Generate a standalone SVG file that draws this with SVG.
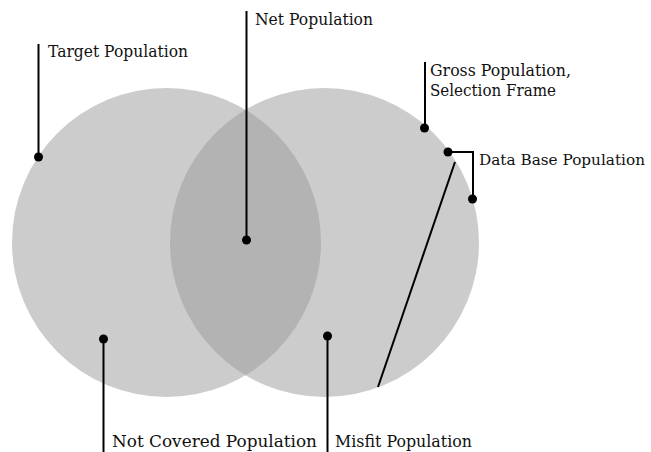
<svg xmlns="http://www.w3.org/2000/svg" width="651" height="452" viewBox="0 0 651 452">
  <style>
    .area { fill: #cccccc; }
    .overlap { fill: #b3b3b3; }
    .lead { stroke: #000; stroke-width: 2; fill: none; }
    .dot { fill: #000; }
    .label { font-family: "DejaVu Serif", "Liberation Serif", serif; font-size: 17px; fill: #111; }
    .label.tight { font-size: 15.5px; }
  </style>
  <defs>
    <clipPath id="clipLeft">
      <circle cx="166.5" cy="242.5" r="154.5"/>
    </clipPath>
  </defs>
  <rect width="651" height="452" fill="#ffffff"/>

  <!-- population sets -->
  <g id="target-circle">
    <circle class="area" cx="166.5" cy="242.5" r="154.5"/>
  </g>
  <g id="gross-circle">
    <circle class="area" cx="324.5" cy="242.5" r="154.5"/>
  </g>
  <g id="net-lens">
    <circle class="overlap" cx="324.5" cy="242.5" r="154.5" clip-path="url(#clipLeft)"/>
  </g>

  <!-- leader lines -->
  <g id="connectors">
    <path class="lead" d="M38.5 44 V157"/>
    <path class="lead" d="M246.5 11 V240"/>
    <path class="lead" d="M425 62 V128"/>
    <path class="lead" d="M448 152 H473 V199"/>
    <path class="lead" d="M455 162 L378 387"/>
    <path class="lead" d="M103.5 339 V452"/>
    <path class="lead" d="M327.5 336 V452"/>
    <circle class="dot" cx="38.5" cy="157" r="4.5"/>
    <circle class="dot" cx="246.5" cy="240" r="4.5"/>
    <circle class="dot" cx="424.5" cy="128" r="4.5"/>
    <circle class="dot" cx="448" cy="152" r="4.5"/>
    <circle class="dot" cx="472.5" cy="199" r="4.5"/>
    <circle class="dot" cx="103.5" cy="339" r="4.5"/>
    <circle class="dot" cx="327.5" cy="336" r="4.5"/>
  </g>

  <!-- labels -->
  <g id="label-target">
    <text class="label" x="48" y="57" textLength="140" lengthAdjust="spacingAndGlyphs">Target Population</text>
  </g>
  <g id="label-net">
    <text class="label" x="255" y="24.5" textLength="118" lengthAdjust="spacingAndGlyphs">Net Population</text>
  </g>
  <g id="label-gross">
    <text class="label" x="430" y="76" textLength="141" lengthAdjust="spacingAndGlyphs">Gross Population,</text>
    <text class="label" x="430" y="96" textLength="126" lengthAdjust="spacingAndGlyphs">Selection Frame</text>
  </g>
  <g id="label-database">
    <text class="label tight" x="479" y="164.5" textLength="166" lengthAdjust="spacingAndGlyphs">Data Base Population</text>
  </g>
  <g id="label-not-covered">
    <text class="label" x="112" y="447" textLength="205" lengthAdjust="spacingAndGlyphs">Not Covered Population</text>
  </g>
  <g id="label-misfit">
    <text class="label" x="335" y="447" textLength="137" lengthAdjust="spacingAndGlyphs">Misfit Population</text>
  </g>
</svg>
